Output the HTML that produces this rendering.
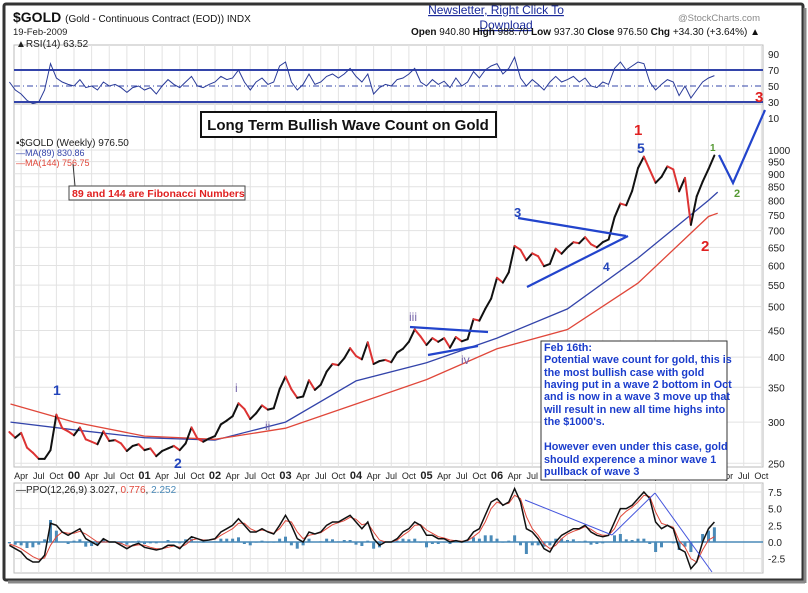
<!DOCTYPE html>
<html><head><meta charset="utf-8"><style>
body{margin:0;background:#fff;width:808px;height:588px;overflow:hidden;font-family:"Liberation Sans",sans-serif}
svg text{font-family:"Liberation Sans",sans-serif}
</style></head><body>
<svg id="c" width="808" height="588" viewBox="0 0 808 588" xmlns="http://www.w3.org/2000/svg">
<rect x="4" y="4" width="799" height="576" fill="#fff" stroke="#333" stroke-width="3" rx="2"/>
<line x1="805" y1="8" x2="805" y2="583" stroke="#888" stroke-width="3"/>
<line x1="8" y1="582" x2="805" y2="582" stroke="#888" stroke-width="3"/>
<g id="grid"></g>
<g id="rsi"></g>
<g id="price"></g>
<g id="ppo"></g>
<g id="axes"></g>
<g id="notes"></g>
</svg>
<script>
const closes=[287,280,286,268,262,255,255,265,310,292,288,
283,293,278,275,272,288,276,277,273,264,270,272,
265,267,258,264,267,270,265,273,293,279,275,279,
282,297,302,308,326,318,304,312,323,317,319,347,
367,347,334,336,361,346,354,375,388,386,398,416,
402,396,427,388,393,395,391,408,415,428,452,438,
422,435,428,435,417,437,429,433,473,470,495,518,
568,556,582,654,643,614,633,625,598,604,646,632,
650,665,662,680,659,650,665,673,742,789,783,834,
923,971,916,865,888,930,918,833,884,718,815,869,
919,976];
const rsiVals=[55,45,40,32,28,30,45,78,60,55,52,
50,58,48,50,45,55,50,52,48,42,48,50,
45,48,40,50,58,52,48,55,62,50,48,52,
55,62,58,60,70,55,45,55,60,52,55,75,
80,55,45,52,65,52,55,62,65,60,65,72,
62,55,65,40,48,52,50,58,60,65,72,55,
50,58,52,56,48,60,50,55,68,60,70,75,
78,65,72,86,60,50,58,52,45,55,62,55,
58,62,55,60,50,48,55,52,72,80,70,75,
80,78,55,45,52,58,55,38,50,35,45,55,
60,63];
const ppoVals=[-0.5,-1,-1.5,-2.5,-3,-3,-2,2.8,2.5,1.5,1,
1.5,2,0.5,0,-0.5,0.5,0,0,-0.5,-1,-0.5,-0.2,
-0.8,-1,-1.2,-1,-0.5,-0.5,-1,0,0.8,0.5,0.2,0.3,
0.5,1.5,2,2.5,3.5,2.5,1.5,1.5,2,1.5,1.2,2.5,
4,2.5,0.5,0,1.5,1.2,1.5,2.5,3,3,3.5,4,
3,2,3,0.5,-0.5,0,0,0.5,1.5,2,3,2.5,
1,1,0.5,0.5,0,0.2,0,0.3,1.5,2,4,6,
6.5,5.5,6,8,6,2,1.5,0.5,-1,-1.5,0,1,
1.5,2,2,2.5,1.5,1,0.8,1,3,5,5,5.5,
6.5,7.5,6.5,3,2,2.5,2,-1,-1.5,-4,-3,0,
2,3];
const sigVals=[-0.3,-0.6,-1,-1.6,-2.2,-2.6,-2.4,-0.5,0.8,1.5,1.3,
1.3,1.6,1.2,0.6,0,0,0,0,-0.2,-0.6,-0.6,-0.4,
-0.5,-0.8,-1,-1,-0.8,-0.6,-0.8,-0.4,0.3,0.5,0.3,0.3,
0.4,1,1.5,2,2.8,2.8,2,1.6,1.8,1.6,1.3,2,
3.2,3,1.5,0.5,1,1.2,1.4,2,2.6,2.9,3.2,3.7,
3.4,2.6,2.8,1.5,0.3,0,0,0.3,1,1.6,2.5,2.6,
1.8,1.3,0.8,0.6,0.3,0.2,0.1,0.2,0.8,1.5,3,5,
6,5.6,5.8,7,6.5,3.8,2,1,-0.3,-1,-0.5,0.5,
1.2,1.6,1.9,2.3,1.9,1.3,1,1,2,3.8,4.6,5.2,
6,7,6.8,4.5,2.8,2.5,2.2,0.2,-0.8,-2.5,-3,-1.2,
0.3,0.8];
const maDates=[1999.1,2000,2001,2002,2003,2004,2005,2006,2007,2008,2009,2009.13];
const ma89=[300,290,280,277,300,360,390,435,495,620,800,830];
const ma144=[325,300,282,278,292,325,362,415,452,555,745,756];
const priceTicks=[1000,950,900,850,800,750,700,650,600,550,500,450,400,350,300,250];
const rsiTicks=[90,70,50,30,10];
const ppoTicks=[7.5,5.0,2.5,0.0,-2.5];
const years=['99','00','01','02','03','04','05','06','07','08','09'];

const NS='http://www.w3.org/2000/svg';
const X0=14,X1=763;
const xT=t=>74+(t-2000)*70.5;
const xI=i=>xT(1999+(1+i)/12);
const yP=p=>150+226*Math.log(1000/p);
const yR=v=>86-(v-50)*0.8;
const yQ=v=>542-v*6.67;
function el(tag,attrs,parent,txt){const e=document.createElementNS(NS,tag);for(const k in attrs)e.setAttribute(k,attrs[k]);if(txt!==undefined)e.textContent=txt;document.getElementById(parent).appendChild(e);return e;}
function path(vals,xf,yf){return vals.map((v,i)=>(i?'L':'M')+xf(i).toFixed(1)+','+yf(v).toFixed(1)).join('');}

[[45,104],[104,467],[483,573]].forEach((p,k)=>{
 const r=el('rect',{x:X0,y:p[0],width:X1-X0,height:p[1]-p[0],fill:'none',stroke:'#bbb'},'grid');
 
 
});
for(let y=1999;y<=2009;y++){['',"Apr","Jul","Oct"].forEach((m,q)=>{
 const t=y+q*0.25; const x=xT(t); if(x<X0||x>X1)return;
 [[45,104],[104,467],[483,573]].forEach(p=>el('line',{x1:x,x2:x,y1:p[0],y2:p[1],stroke:'#e2e2e2'},'grid'));
 const lab=q===0?years[y-1999]:m;
 const tx=el('text',{x:x,y:479,'font-size':q===0?11:9,'font-weight':q===0?'bold':'normal','text-anchor':'middle',fill:'#222'},'axes',lab);
 
 
});}
priceTicks.forEach(p=>{const y=yP(p);el('line',{x1:X0,x2:X1,y1:y,y2:y,stroke:'#e2e2e2'},'grid');
 const t=el('text',{x:768,y:y+4,'font-size':10,fill:'#222'},'axes',p);
 
 });
rsiTicks.forEach(v=>{const t=el('text',{x:768,y:yR(v)+4,'font-size':10,fill:'#222'},'axes',v);
 
 });
ppoTicks.forEach(v=>{const y=yQ(v);el('line',{x1:X0,x2:X1,y1:y,y2:y,stroke:'#e2e2e2'},'grid');
 const t=el('text',{x:768,y:y+4,'font-size':10,fill:'#222'},'axes',v.toFixed(1));
 
 });

el('line',{x1:X0,x2:X1,y1:yR(70),y2:yR(70),stroke:'#3344aa','stroke-width':2},'rsi');
el('line',{x1:X0,x2:X1,y1:yR(30),y2:yR(30),stroke:'#3344aa','stroke-width':2},'rsi');
el('line',{x1:X0,x2:X1,y1:yR(50),y2:yR(50),stroke:'#3344aa','stroke-dasharray':'6,3,1,3'},'rsi');
const rl=el('path',{d:path(rsiVals,xI,yR),fill:'none',stroke:'#2a3b99','stroke-width':1},'rsi');



const m89=el('path',{d:path(ma89,i=>xT(maDates[i]),yP),fill:'none',stroke:'#3344aa','stroke-width':1.3},'price');


const m144=el('path',{d:path(ma144,i=>xT(maDates[i]),yP),fill:'none',stroke:'#e0473a','stroke-width':1.3},'price');


closes.forEach((c,i)=>{if(!i)return;const up=c>=closes[i-1];
 const s=el('line',{x1:xI(i-1),y1:yP(closes[i-1]),x2:xI(i),y2:yP(c),stroke:up?'#111':'#d33','stroke-width':2,'stroke-linecap':'round'},'price');
 
 });

el('line',{x1:X0,x2:X1,y1:yQ(0),y2:yQ(0),stroke:'#4a8ab8','stroke-width':1.5},'ppo');
ppoVals.forEach((v,i)=>{const h=v-sigVals[i];const b=el('rect',{x:xI(i)-1.5,y:Math.min(yQ(0),yQ(h)),width:3,height:Math.abs(yQ(h)-yQ(0)),fill:'#4a8ab8'},'ppo');
 
 });
const sg=el('path',{d:path(sigVals,xI,yQ),fill:'none',stroke:'#e0473a','stroke-width':1},'ppo');


const pl=el('path',{d:path(ppoVals,xI,yQ),fill:'none',stroke:'#111','stroke-width':1.5},'ppo');


</script>
<svg width="808" height="588" style="position:absolute;left:0;top:0">
<text x="13" y="22" font-size="14" font-weight="bold" fill="#111">$GOLD <tspan font-size="10" font-weight="normal">(Gold - Continuous Contract (EOD)) INDX</tspan></text>
<text x="13" y="35" font-size="9.5" fill="#222">19-Feb-2009</text>
<text x="496" y="14" font-size="12" fill="#1a2a9a" text-anchor="middle" font-family="Liberation Serif" text-decoration="underline">Newsletter, Right Click To</text>
<text x="506" y="29" font-size="12" fill="#1a2a9a" text-anchor="middle" font-family="Liberation Serif" text-decoration="underline">Download</text>
<text x="760" y="21" font-size="9.5" fill="#888" text-anchor="end">@StockCharts.com</text>
<text x="760" y="35" font-size="10" fill="#111" text-anchor="end"><tspan font-weight="bold">Open</tspan> 940.80 <tspan font-weight="bold">High</tspan> 988.70 <tspan font-weight="bold">Low</tspan> 937.30 <tspan font-weight="bold">Close</tspan> 976.50 <tspan font-weight="bold">Chg</tspan> +34.30 (+3.64%) ▲</text>
<text x="16" y="47" font-size="10" fill="#222" font-family="Liberation Mono">▲RSI(14) 63.52</text>
<rect x="201" y="112" width="295" height="25" fill="#fff" stroke="#111" stroke-width="2"/>
<text x="348" y="130" font-size="15" font-weight="bold" text-anchor="middle" fill="#111">Long Term Bullish Wave Count on Gold</text>
<text x="16" y="146" font-size="10" fill="#222" font-family="Liberation Mono">▪$GOLD (Weekly) 976.50</text>
<text x="16" y="156" font-size="9" fill="#3344aa">—MA(89) 830.86</text>
<text x="16" y="166" font-size="9" fill="#e0473a">—MA(144) 756.75</text>
<line x1="73" y1="164" x2="75" y2="186" stroke="#333"/>
<rect x="69" y="186" width="176" height="14" fill="#fff" stroke="#444"/>
<text x="72" y="197" font-size="10.5" font-weight="bold" fill="#e02020">89 and 144  are Fibonacci Numbers</text>
<g font-weight="bold" font-size="14">
<text x="53" y="395" fill="#2244bb">1</text>
<text x="174" y="468" fill="#2244bb">2</text>
<text x="634" y="135" fill="#e02020" font-size="15">1</text>
<text x="637" y="153" fill="#2244bb">5</text>
<text x="514" y="217" fill="#2244bb" font-size="13">3</text>
<text x="603" y="271" fill="#2244bb" font-size="12">4</text>
<text x="701" y="251" fill="#e02020" font-size="15">2</text>
<text x="755" y="102" fill="#e02020" font-size="15">3</text>
<text x="710" y="151" fill="#559933" font-size="10">1</text>
<text x="734" y="197" fill="#559933" font-size="11">2</text>
</g>
<g font-size="12" fill="#7766aa">
<text x="409" y="321">iii</text><text x="461" y="364">iv</text>
<text x="235" y="392">i</text><text x="265" y="430">ii</text>
</g>
<g stroke="#2244cc" stroke-width="2.2" fill="none">
<line x1="410" y1="327" x2="488" y2="332"/><line x1="428" y1="355" x2="478" y2="346"/>
<line x1="518" y1="218" x2="626" y2="236"/><line x1="527" y1="287" x2="628" y2="236"/>
<polyline points="719,155 733,183 765,110"/>
</g>
<rect x="541" y="341" width="186" height="139" fill="#fff" stroke="#333"/>
<g font-size="10.8" font-weight="bold" fill="#1a3ccc">
<text x="544" y="351">Feb 16th:</text>
<text x="544" y="363">Potential wave count for gold, this is</text>
<text x="544" y="376">the most bullish case with gold</text>
<text x="544" y="388">having put in a wave 2 bottom in Oct</text>
<text x="544" y="400">and is now in a wave 3 move up that</text>
<text x="544" y="413">will result in new all time highs into</text>
<text x="544" y="425">the $1000's.</text>
<text x="544" y="450">However even under this case, gold</text>
<text x="544" y="463">should experence a minor wave 1</text>
<text x="544" y="475">pullback of wave 3</text>
</g>
<text x="16" y="493" font-size="10" fill="#222" font-family="Liberation Mono">—PPO(12,26,9) 3.027, <tspan fill="#e0473a">0.776</tspan>, <tspan fill="#4a8ab8">2.252</tspan></text>
<g stroke="#4455dd" stroke-width="1">
<line x1="525" y1="500" x2="612" y2="535"/><line x1="612" y1="535" x2="655" y2="493"/><line x1="655" y1="493" x2="712" y2="572"/>
</g>
</svg>
</body></html>
